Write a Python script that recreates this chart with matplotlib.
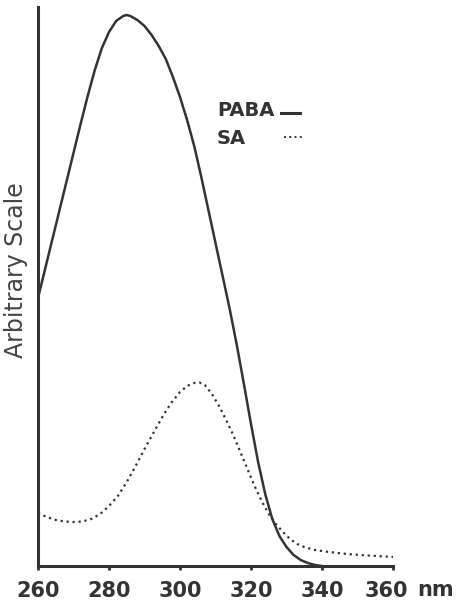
import numpy as np
from matplotlib import pyplot as plt
from matplotlib import transforms

# wavelength (nm) / arbitrary intensity
paba_nm = [260, 262, 264, 266, 268, 270, 272, 274, 276, 278, 280, 282, 284, 285,
           286, 288, 290, 292, 294, 296, 298, 300, 302, 304, 306, 308, 310, 312,
           314, 316, 318, 320, 322, 324, 326, 328, 330, 332, 334, 336, 338, 340]
paba_val = [268, 297, 326, 355, 384, 413, 442, 470, 496, 518, 534, 545, 550, 551,
            550, 546, 540, 531, 520, 507, 489, 469, 446, 420, 389, 356, 323, 290,
            257, 221, 182, 142, 104, 72, 47, 30, 19, 11, 6, 3, 1, 0]

sa_nm = [260, 262.5, 265, 267.5, 270, 272.5, 275, 277.5, 280, 282.5, 285, 287.5,
         290, 292.5, 295, 297.5, 300, 302, 304, 305.5, 307, 309, 311, 313, 315,
         317, 319, 321, 323, 325, 327, 329, 331, 333, 335, 338, 342, 347, 353, 360]
sa_val = [53, 49, 46, 44.5, 44, 44.5, 47, 52, 60, 70, 84, 100,
          117, 133, 149, 163, 174, 180, 183, 183.5, 181, 172, 160, 146, 131,
          114, 97, 80, 65, 52, 42, 34, 27, 22, 19, 16, 14, 12, 10.5, 9]

xticks = [260, 280, 300, 320, 340, 360]

ink = "#333333"

fig = plt.figure(figsize=(4.61, 6.06), dpi=100)
ax = fig.add_axes([38 / 461, 40 / 606, 355 / 461, 559 / 606])

ax.plot(paba_nm, paba_val, color=ink, lw=1.8, solid_capstyle="round",
        solid_joinstyle="round")
ax.plot(sa_nm, sa_val, color=ink, lw=1.6, linestyle=(0, (1, 1.7)))

ax.set_xlim(260, 360)
ax.set_ylim(0, 559)

for side in ["top", "right"]:
    ax.spines[side].set_visible(False)
for side in ["left", "bottom"]:
    ax.spines[side].set_linewidth(2.2)
    ax.spines[side].set_color(ink)

ax.set_yticks([])
ax.set_xticks(xticks)
ax.tick_params(axis="x", direction="out", length=3, width=2, color=ink, pad=8)
for lbl in ax.get_xticklabels():
    lbl.set_fontsize(15)
    lbl.set_fontweight("bold")
    lbl.set_color(ink)
# last label sits a bit left of its tick to leave room for the unit
last = ax.get_xticklabels()[-1]
last.set_transform(last.get_transform() +
                   transforms.ScaledTranslation(-7 / 100, 0, fig.dpi_scale_trans))

fig.text(436 / 461, 1 - 590 / 606, "nm", ha="center", va="center",
         fontsize=15, fontweight="bold", color=ink)

fig.text(16 / 461, 1 - 270 / 606, "Arbitrary Scale", rotation=90,
         ha="center", va="center", fontsize=17, color="#444444")

#####* hand-made legend
ax.text(0.504, 0.814, "PABA", transform=ax.transAxes, ha="left", va="center",
        fontsize=14, fontweight="bold", color=ink)
ax.plot([0.684, 0.738], [0.810, 0.810], transform=ax.transAxes, color=ink,
        lw=2.2, clip_on=False)
ax.text(0.504, 0.764, "SA", transform=ax.transAxes, ha="left", va="center",
        fontsize=14, fontweight="bold", color=ink)
ax.plot([0.692, 0.748], [0.767, 0.767], transform=ax.transAxes, color=ink,
        lw=1.4, linestyle=(0, (1, 1.7)), clip_on=False)

plt.savefig("out.png", dpi=100)
